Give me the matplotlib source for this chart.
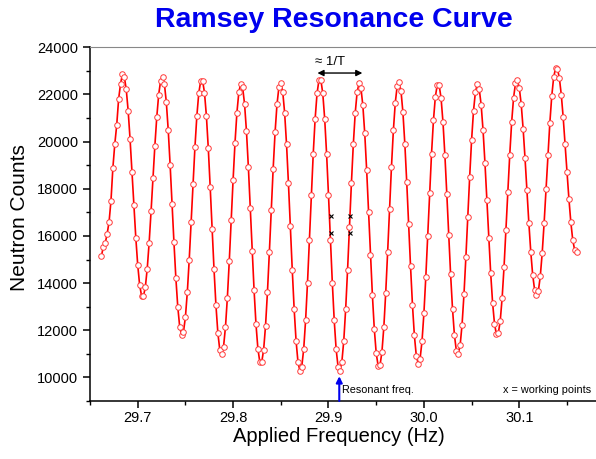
import matplotlib.pyplot as plt

plt.rcParams['font.family'] = ['Liberation Sans', 'DejaVu Sans']

# applied frequency (Hz) of each scan point
frecuencias = [
    29.662, 29.664, 29.666, 29.668, 29.670, 29.672, 29.674, 29.676, 29.678, 29.680,
    29.682, 29.684, 29.686, 29.688, 29.690, 29.692, 29.694, 29.696, 29.698, 29.700,
    29.702, 29.704, 29.706, 29.708, 29.710, 29.712, 29.714, 29.716, 29.718, 29.720,
    29.722, 29.724, 29.726, 29.728, 29.730, 29.732, 29.734, 29.736, 29.738, 29.740,
    29.742, 29.744, 29.746, 29.748, 29.750, 29.752, 29.754, 29.756, 29.758, 29.760,
    29.762, 29.764, 29.766, 29.768, 29.770, 29.772, 29.774, 29.776, 29.778, 29.780,
    29.782, 29.784, 29.786, 29.788, 29.790, 29.792, 29.794, 29.796, 29.798, 29.800,
    29.802, 29.804, 29.806, 29.808, 29.810, 29.812, 29.814, 29.816, 29.818, 29.820,
    29.822, 29.824, 29.826, 29.828, 29.830, 29.832, 29.834, 29.836, 29.838, 29.840,
    29.842, 29.844, 29.846, 29.848, 29.850, 29.852, 29.854, 29.856, 29.858, 29.860,
    29.862, 29.864, 29.866, 29.868, 29.870, 29.872, 29.874, 29.876, 29.878, 29.880,
    29.882, 29.884, 29.886, 29.888, 29.890, 29.892, 29.894, 29.896, 29.898, 29.900,
    29.902, 29.904, 29.906, 29.908, 29.910, 29.912, 29.914, 29.916, 29.918, 29.920,
    29.922, 29.924, 29.926, 29.928, 29.930, 29.932, 29.934, 29.936, 29.938, 29.940,
    29.942, 29.944, 29.946, 29.948, 29.950, 29.952, 29.954, 29.956, 29.958, 29.960,
    29.962, 29.964, 29.966, 29.968, 29.970, 29.972, 29.974, 29.976, 29.978, 29.980,
    29.982, 29.984, 29.986, 29.988, 29.990, 29.992, 29.994, 29.996, 29.998, 30.000,
    30.002, 30.004, 30.006, 30.008, 30.010, 30.012, 30.014, 30.016, 30.018, 30.020,
    30.022, 30.024, 30.026, 30.028, 30.030, 30.032, 30.034, 30.036, 30.038, 30.040,
    30.042, 30.044, 30.046, 30.048, 30.050, 30.052, 30.054, 30.056, 30.058, 30.060,
    30.062, 30.064, 30.066, 30.068, 30.070, 30.072, 30.074, 30.076, 30.078, 30.080,
    30.082, 30.084, 30.086, 30.088, 30.090, 30.092, 30.094, 30.096, 30.098, 30.100,
    30.102, 30.104, 30.106, 30.108, 30.110, 30.112, 30.114, 30.116, 30.118, 30.120,
    30.122, 30.124, 30.126, 30.128, 30.130, 30.132, 30.134, 30.136, 30.138, 30.140,
    30.142, 30.144, 30.146, 30.148, 30.150, 30.152, 30.154, 30.156, 30.158, 30.160,
]

# neutron counts
cuentas = [
    15150, 15550, 15700, 16100, 16600, 17500, 18900, 19900, 20700, 21800,
    22450, 22850, 22744, 22211, 21306, 20103, 18726, 17295, 15933, 14779,
    13935, 13472, 13439, 13831, 14618, 15717, 17038, 18450, 19828, 21044,
    21993, 22578, 22750, 22447, 21671, 20491, 19008, 17373, 15728, 14217,
    12994, 12158, 11797, 11934, 12555, 13608, 14988, 16570, 18221, 19769,
    21085, 22049, 22565, 22586, 22081, 21094, 19716, 18061, 16300, 14586,
    13068, 11901, 11181, 10982, 11310, 12134, 13387, 14939, 16664, 18385,
    19955, 21229, 22093, 22461, 22296, 21601, 20442, 18926, 17179, 15382,
    13690, 12250, 11211, 10657, 10644, 11171, 12189, 13614, 15300, 17110,
    18858, 20393, 21576, 22299, 22491, 22124, 21234, 19898, 18241, 16403,
    14574, 12901, 11557, 10654, 10277, 10463, 11199, 12420, 14020, 15838,
    17725, 19486, 20972, 22047, 22612, 22612, 22047, 20972, 19486, 17725,
    15838, 14020, 12420, 11199, 10463, 10277, 10654, 11554, 12897, 14566,
    16391, 18224, 19878, 21210, 22100, 22465, 22271, 21540, 20346, 18795,
    17031, 15203, 13500, 12061, 11032, 10500, 10515, 11078, 12136, 13601,
    15323, 17152, 18929, 20473, 21653, 22361, 22528, 22146, 21246, 19920,
    18288, 16497, 14704, 13089, 11786, 10929, 10587, 10792, 11525, 12714,
    14262, 16008, 17803, 19490, 20896, 21901, 22415, 22391, 21845, 20823,
    19431, 17791, 16043, 14368, 12908, 11793, 11136, 10991, 11368, 12240,
    13517, 15096, 16813, 18519, 20069, 21300, 22111, 22427, 22231, 21565,
    20485, 19100, 17532, 15925, 14421, 13170, 12275, 11829, 11866, 12396,
    13363, 14682, 16240, 17877, 19452, 20828, 21863, 22471, 22599, 22285,
    21584, 20554, 19298, 17928, 16561, 15339, 14364, 13724, 13484, 13672,
    14290, 15275, 16538, 17972, 19429, 20785, 21920, 22720, 23115, 23086,
    22698, 21991, 21032, 19907, 18720, 17578, 16588, 15839, 15401, 15300,
]

# working points (x marks)
puntos_frec = [29.9023, 29.9023, 29.923, 29.923]
puntos_cuentas = [16850, 16128, 16850, 16128]

frec_resonante = 29.9113

fig = plt.figure(figsize=(5.96, 4.59), dpi=100)
ax = fig.add_axes([90 / 596, 58 / 459, 506 / 596, 353.7 / 459])

ax.plot(frecuencias, cuentas, color='red', lw=1.2, marker='o', ms=4,
        mfc='white', mec='#ff3a3a', mew=0.7)
ax.plot(puntos_frec, puntos_cuentas, ls='none', marker='x', ms=3.5,
        mec='black', mew=0.8)

ax.set_xlim(29.65, 30.1804)
ax.set_ylim(9000, 24000)
ax.set_xticks([29.7, 29.8, 29.9, 30.0, 30.1])
ax.set_xticks([29.65, 29.75, 29.85, 29.95, 30.05, 30.15], minor=True)
ax.set_yticks(range(10000, 24001, 2000))
ax.set_yticks(range(9000, 24000, 2000), minor=True)
ax.tick_params(which='major', direction='out', length=5, width=1.1, labelsize=10.5)
ax.tick_params(axis='y', which='major', pad=3.5)
ax.tick_params(axis='x', which='major', pad=2.5)
ax.tick_params(which='minor', direction='out', length=3.2, width=1.0)

ax.spines['right'].set_visible(False)
ax.spines['top'].set_color('#888888')
ax.spines['top'].set_linewidth(0.8)
ax.spines['left'].set_linewidth(1.1)
ax.spines['bottom'].set_linewidth(1.1)

fig.text(334 / 596, 1 - 20 / 459, 'Ramsey Resonance Curve', ha='center', va='center',
         color='#0000ee', fontsize=20.5, fontweight='bold')
fig.text(20 / 596, 1 - 218 / 459, 'Neutron Counts', rotation=90, ha='center',
         va='center', fontsize=15)
fig.text(339 / 596, 1 - 437 / 459, 'Applied Frequency (Hz)', ha='center',
         va='center', fontsize=14.5)

# 1/T marker
ax.annotate('', xy=(29.9355, 22909), xytext=(29.8884, 22909),
            arrowprops=dict(arrowstyle='<|-|>', color='black', lw=1.0,
                            mutation_scale=9, shrinkA=0, shrinkB=0))
ax.text(29.9015, 23389, '\u2248 1/T', ha='center', va='center', fontsize=9.5)

# resonant frequency arrow
ax.annotate('', xy=(frec_resonante, 10050), xytext=(frec_resonante, 9000),
            arrowprops=dict(arrowstyle='-|>', color='#0000ee', lw=1.5,
                            mutation_scale=9, shrinkA=0, shrinkB=0))
ax.text(29.9146, 9449, 'Resonant freq.', ha='left', va='center', fontsize=7.8)
ax.text(0.99, 9449, 'x = working points', transform=ax.get_yaxis_transform(),
        ha='right', va='center', fontsize=7.8)

fig.savefig('out.png', dpi=100)
